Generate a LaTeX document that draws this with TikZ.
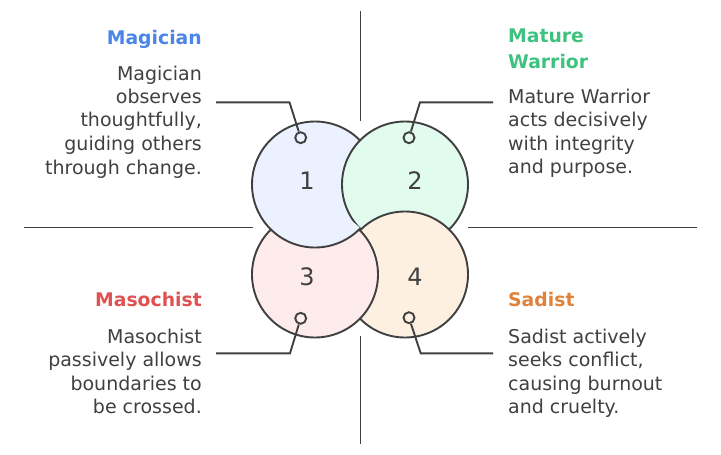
\documentclass[tikz,border=0pt]{standalone}
\usepackage{fontspec}
\setmainfont{DejaVu Sans}
\definecolor{ink}{HTML}{404040}
\definecolor{fillA}{HTML}{EBF1FE}
\definecolor{fillB}{HTML}{E1FBEE}
\definecolor{fillC}{HTML}{FEEBEB}
\definecolor{fillD}{HTML}{FEF0E1}
\definecolor{tA}{HTML}{4A86E8}
\definecolor{tB}{HTML}{3EC27F}
\definecolor{tC}{HTML}{E05252}
\definecolor{tD}{HTML}{E0823D}
\tikzset{
  ring/.style={draw=ink, line width=1.9pt},
  rule/.style={draw=ink, line width=1.9pt},
  lead/.style={draw=ink, line width=1.9pt},
  pin/.style={circle, draw=ink, line width=1.9pt, minimum size=11pt, inner sep=0pt},
  num/.style={text=ink, font=\fontsize{24}{28}\selectfont, inner sep=0pt},
  ttl/.style={font=\bfseries\fontsize{18.8}{26}\selectfont, inner sep=0pt},
  body/.style={text=ink, font=\fontsize{19}{23.5}\selectfont, inner sep=0pt}
}
\begin{document}
\begin{tikzpicture}[x=1pt, y=-1pt]
\useasboundingbox (0,0) rectangle (721,455);
% circles, cyclic overlap: 2 over 1, 4 over 2, 3 over 4, 1 over 3
\filldraw[ring, fill=fillA] (315,184.5) circle[radius=63pt];
\filldraw[ring, fill=fillB] (405,184.5) circle[radius=63pt];
\filldraw[ring, fill=fillD] (405,274.5) circle[radius=63pt];
\filldraw[ring, fill=fillC] (315,274.5) circle[radius=63pt];
\begin{scope}
  \clip (315,274.5) circle[radius=64.8pt];
  \filldraw[ring, fill=fillA] (315,184.5) circle[radius=63pt];
\end{scope}
% numbers
\node[num] (n1) at (307,181) {1};
\node[num] (n2) at (415,181) {2};
\node[num] (n3) at (307,277) {3};
\node[num] (n4) at (415,277) {4};
% axis rules
\coordinate (vt1) at (360.5,11);
\coordinate (vt2) at (360.5,121);
\coordinate (vb1) at (360.5,336);
\coordinate (vb2) at (360.5,444);
\coordinate (hl1) at (24,227.5);
\coordinate (hl2) at (253,227.5);
\coordinate (hr1) at (468,227.5);
\coordinate (hr2) at (697,227.5);
\draw[rule] (vt1) -- (vt2);
\draw[rule] (vb1) -- (vb2);
\draw[rule] (hl1) -- (hl2);
\draw[rule] (hr1) -- (hr2);
% pins and leaders
\node[pin] (p1) at (300.7,137.7) {};
\node[pin] (p2) at (409,137.7) {};
\node[pin] (p3) at (300.7,318.3) {};
\node[pin] (p4) at (409,317.7) {};
\coordinate (l1a) at (216,102.3);
\coordinate (l1b) at (289.5,102.3);
\coordinate (l2a) at (493,102.3);
\coordinate (l2b) at (420,102.3);
\coordinate (l3a) at (216,353.3);
\coordinate (l3b) at (290,353.3);
\coordinate (l4a) at (493,353.3);
\coordinate (l4b) at (420.7,353.3);
\draw[lead] (l1a) -- (l1b) -- (p1);
\draw[lead] (l2a) -- (l2b) -- (p2);
\draw[lead] (l3a) -- (l3b) -- (p3);
\draw[lead] (l4a) -- (l4b) -- (p4);
% titles
\node[ttl, text=tA, anchor=base east] (t1) at (202,44) {Magician};
\node[ttl, text=tB, anchor=base west] (t2) at (508,42) {\begin{tabular}[t]{@{}l@{}}Mature\\Warrior\end{tabular}};
\node[ttl, text=tC, anchor=base east] (t3) at (202,306.7) {Masochist};
\node[ttl, text=tD, anchor=base west] (t4) at (508,306.7) {Sadist};
% bodies
\node[body, anchor=base east] (b1) at (202,80) {\begin{tabular}[t]{@{}r@{}}Magician\\observes\\thoughtfully,\\guiding others\\through change.\end{tabular}};
\node[body, anchor=base west] (b2) at (508,103.3) {\begin{tabular}[t]{@{}l@{}}Mature Warrior\\acts decisively\\with integrity\\and purpose.\end{tabular}};
\node[body, anchor=base east] (b3) at (202,343.3) {\begin{tabular}[t]{@{}r@{}}Masochist\\passively allows\\boundaries to\\be crossed.\end{tabular}};
\node[body, anchor=base west] (b4) at (508,343.3) {\begin{tabular}[t]{@{}l@{}}Sadist actively\\seeks conflict,\\causing burnout\\and cruelty.\end{tabular}};
\end{tikzpicture}
\end{document}
